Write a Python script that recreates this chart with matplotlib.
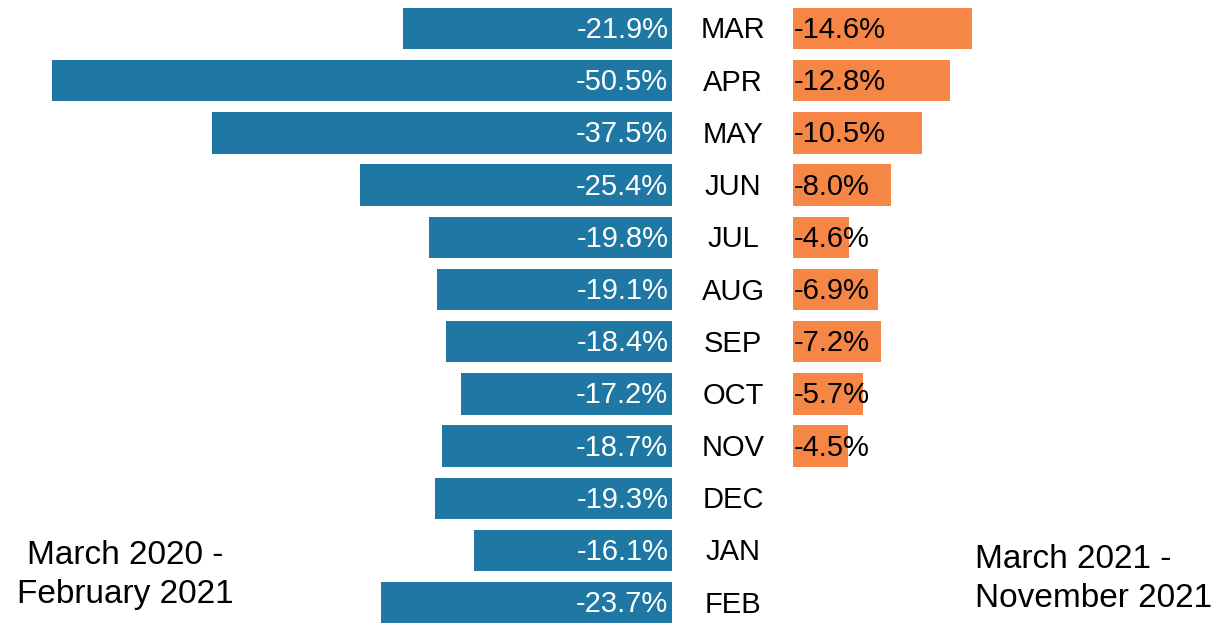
import matplotlib
matplotlib.use("Agg")
import matplotlib.pyplot as plt

# Datos
months = ['MAR', 'APR', 'MAY', 'JUN', 'JUL', 'AUG', 'SEP', 'OCT', 'NOV', 'DEC', 'JAN', 'FEB']
left_vals = [-21.9, -50.5, -37.5, -25.4, -19.8, -19.1, -18.4, -17.2, -18.7, -19.3, -16.1, -23.7]
right_vals = [-14.6, -12.8, -10.5, -8.0, -4.6, -6.9, -7.2, -5.7, -4.5]

blue = '#1f77a4'
orange = '#f58646'
fs = 21
plt.rcParams['font.family'] = ['Liberation Sans', 'DejaVu Sans']

W, H = 1221, 623
fig = plt.figure(figsize=(W / 100, H / 100), dpi=100)

x0_left = 672
x0_right = 793
scale = 12.28  # px por punto porcentual
pitch = 52.2
first_center = 28.5
ylim = ((H - first_center) / pitch, (0 - first_center) / pitch)

ax_l = fig.add_axes([0, 0, x0_left / W, 1])
ax_r = fig.add_axes([x0_right / W, 0, (W - x0_right) / W, 1])

y = list(range(len(months)))

# Barras izquierdas
ax_l.barh(y, left_vals, height=0.79, color=blue)
ax_l.set_xlim(-x0_left / scale, 0)
ax_l.set_ylim(*ylim)
for i, v in enumerate(left_vals):
    ax_l.text(-0.3, i + 0.03, f'{v:.1f}%', color='white', fontsize=fs,
              ha='right', va='center')

# Barras derechas
yr = list(range(len(right_vals)))
ax_r.barh(yr, [-v for v in right_vals], height=0.79, color=orange)
ax_r.set_xlim(0, (W - x0_right) / scale)
ax_r.set_ylim(*ylim)
for i, v in enumerate(right_vals):
    ax_r.text(0.1, i + 0.03, f'{v:.1f}%', color='black', fontsize=fs,
              ha='left', va='center')

for ax in (ax_l, ax_r):
    ax.axis('off')

# Etiquetas de meses
for i, m in enumerate(months):
    yp = 1 - (first_center + 2 + i * pitch) / H
    fig.text(733 / W, yp, m, fontsize=fs, ha='center', va='center')

fig.text(125 / W, 1 - 575 / H, 'March 2020 -\nFebruary 2021', fontsize=24,
         ha='center', va='center', multialignment='center', linespacing=1.35)
fig.text(975 / W, 1 - 579 / H, 'March 2021 -\nNovember 2021', fontsize=24,
         ha='left', va='center', multialignment='left', linespacing=1.35)

fig.savefig('out.png', dpi=100)
